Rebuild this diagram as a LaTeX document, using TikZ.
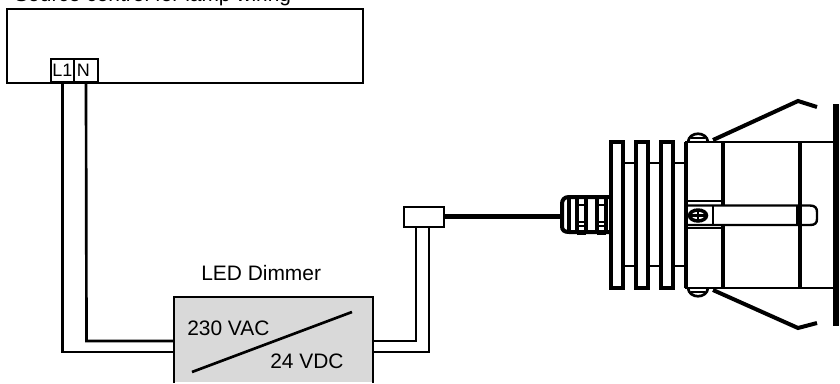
\documentclass[tikz,border=0pt]{standalone}
\usepackage{fontspec}
\setmainfont{Liberation Sans}
\usetikzlibrary{positioning}
\definecolor{dimmergray}{HTML}{D9D9D9}
\tikzset{
  wire/.style={black, line width=2pt},
  lamp/.style={black, line width=3pt},
  lamp thin/.style={black, line width=1.8pt},
  label/.style={inner sep=0pt, font=\fontsize{15.7pt}{18pt}\selectfont, anchor=base west},
  terminal/.style={draw=black, line width=1.3pt, fill=white, minimum width=17.5pt, minimum height=17pt, inner sep=0pt, font=\fontsize{13.5pt}{16pt}\selectfont},
}
\begin{document}
\begin{tikzpicture}[x=0.75pt,y=-0.75pt]
      \useasboundingbox (0,0) rectangle (840,383);
      % source box
      \draw[black, line width=1.5pt] (7,9) rectangle (363,82.5);
      \node[label] (source) at (14,1.5) {Source control for lamp wiring};
      \node[terminal] (l1) at (62.5,70.5) {L1};
      \node[terminal] (n) at (86,70.5) {N\kern 4pt};

      % dimmer
      \node[fill=dimmergray, minimum width=149pt, minimum height=63.75pt, inner sep=0pt, anchor=north west] (dimmer) at (174,297) {};
      \draw[black, line width=1.6pt] (dimmer.south west) -- (dimmer.north west) -- (dimmer.north east) -- (dimmer.south east);
      \node[label] (title) at (201,280) {LED Dimmer};
      \node[label] (vac) at (187,335) {230 VAC};
      \node[label] (vdc) at (270,368) {24 VDC};
      \coordinate (sa) at (192,372);
      \coordinate (sb) at (352,312);
      \draw[wire] (sa) -- (sb);

      % connector
      \node[draw=black, line width=1.8pt, fill=white, minimum width=30pt, minimum height=15pt, inner sep=0pt, anchor=north west] (plug) at (403,206) {};
      \coordinate (gland) at (561,216.5);
      \draw[black, line width=3.3pt] (plug.east |- gland) -- (gland);

      % wires
      \draw[wire] (l1.south) -- (62.5,352) -- (dimmer.west |- 0,352);
      \draw[wire] (n.south) -- (86.5,341) -- (dimmer.west |- 0,341);
      \draw[wire] (dimmer.east |- 0,341) -- (416,341) -- (416,227);
      \draw[wire] (dimmer.east |- 0,352) -- (429,352) -- (429,227);

      % fins
      \foreach \i in {611,636,661} {
        \draw[lamp] (\i,288) -- (\i,142) -- (\i+12,142) -- (\i+12,288) -- cycle;
        \draw[lamp thin] (\i+12,163) -- (\i+25,163);
        \draw[lamp thin] (\i+12,266) -- (\i+25,266);
      }

      % gland
      \draw[lamp] (609,197) -- (569,197) .. controls (564,197) and (562,200) .. (562,204) -- (562,226) .. controls (562,230) and (564,232) .. (569,232) -- (609,232);
      \draw[lamp] (568.5,197) -- (568.5,232);
      \foreach \i/\j in {577/586,597/606} {
        \draw[lamp] (\i,196) -- (\i,234);
        \draw[lamp] (\j,196) -- (\j,234);
        \draw[lamp thin] (\i,205) -- (\j,205);
        \draw[lamp thin] (\i,222) -- (\j,222);
        \draw[lamp thin] (\i,226) -- (\j,226);
        \draw[lamp thin] (\i,234) -- (\j,234);
      }

      % body
      \draw[lamp] (686,288) -- (686,142);
      \draw[black, line width=2.2pt] (685,142) -- (833,142);
      \draw[black, line width=2.2pt] (685,288) -- (833,288);
      \draw[lamp] (722.5,142) -- (722.5,205);
      \draw[lamp] (722.5,226) -- (722.5,288);
      \draw[lamp] (800,142) -- (800,288);
      \draw[line width=4pt] (799,206) -- (799,225);
      \draw[black, line width=1.3pt] (686,201) -- (722.5,201);
      \draw[black, line width=1.3pt] (686,228) -- (722.5,228);
      \draw[lamp thin] (686,205.5) -- (810,205.5) .. controls (815,205.5) and (817,208) .. (817,212) -- (817,219) .. controls (817,223) and (815,225) .. (810,225) -- (686,225);
      \draw[lamp thin] (713,205.5) -- (713,225);

      % screws
      \draw[black, line width=2.6pt] (698,215.5) ellipse (8.5 and 5.5);
      \draw[lamp thin] (689,215.5) -- (707,215.5);
      \draw[lamp thin] (698,209) -- (698,222);
      \draw[black, line width=2pt] (688,142) .. controls (689,131) and (707,131) .. (708,142);
      \draw[lamp thin] (691,138) -- (705,138);
      \draw[black, line width=2pt] (688,288) .. controls (689,299) and (707,299) .. (708,288);
      \draw[lamp thin] (691,292) -- (705,292);

      % clips and plate
      \draw[lamp] (713,140) -- (798,101) -- (817,107);
      \draw[lamp] (713,290) -- (798,328) -- (817,323);
      \draw[black, line width=4.5pt] (836,104) -- (836,326);
\end{tikzpicture}
\end{document}
